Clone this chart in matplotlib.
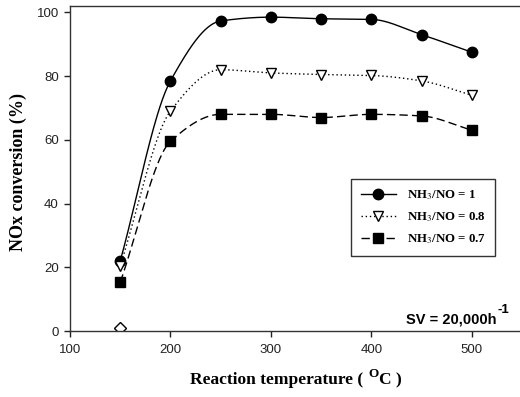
import numpy as np
import matplotlib
matplotlib.use("Agg")
import matplotlib.pyplot as plt

plt.rcParams["mathtext.fontset"] = "stix"

# Reaction temperature (°C) and NOx conversion (%) for each NH3/NO ratio
temperature = [150, 200, 250, 300, 350, 400, 450, 500]
conv_ratio_1 = [22.0, 78.5, 97.3, 98.5, 98.0, 97.8, 93.0, 87.5]
conv_ratio_08 = [20.5, 69.0, 82.0, 81.0, 80.5, 80.2, 78.5, 74.0]
conv_ratio_07 = [15.3, 59.5, 68.0, 68.0, 67.0, 68.0, 67.5, 63.0]
blank_temp = [150]
blank_conv = [1.0]

labels = [r"NH$_3$/NO = 1", r"NH$_3$/NO = 0.8", r"NH$_3$/NO = 0.7"]


def pchip(x, y, xs):
    """Shape-preserving piecewise cubic (Fritsch-Carlson) through the points."""
    x = np.asarray(x, float)
    y = np.asarray(y, float)
    h = np.diff(x)
    d = np.diff(y) / h
    n = len(x)
    m = np.zeros(n)
    for k in range(1, n - 1):
        if d[k - 1] * d[k] > 0:
            w1 = 2 * h[k] + h[k - 1]
            w2 = h[k] + 2 * h[k - 1]
            m[k] = (w1 + w2) / (w1 / d[k - 1] + w2 / d[k])
    m[0] = d[0]
    m[-1] = d[-1]
    idx = np.clip(np.searchsorted(x, xs) - 1, 0, n - 2)
    t = (xs - x[idx]) / h[idx]
    h00 = 2 * t**3 - 3 * t**2 + 1
    h10 = t**3 - 2 * t**2 + t
    h01 = -2 * t**3 + 3 * t**2
    h11 = t**3 - t**2
    return (h00 * y[idx] + h10 * h[idx] * m[idx]
            + h01 * y[idx + 1] + h11 * h[idx] * m[idx + 1])


W, H = 520, 397
fig = plt.figure(figsize=(W / 100, H / 100), dpi=100)
ax = fig.add_axes([70 / W, 66 / H, 1 - 70 / W, (391 - 66) / H])

xs = np.linspace(temperature[0], temperature[-1], 400)
styles = [
    dict(ls="-", marker="o", mfc="black", ms=7.5),
    dict(ls=(0, (1, 2)), marker="v", mfc="white", ms=7.5),
    dict(ls=(0, (6, 3)), marker="s", mfc="black", ms=6.5),
]
for yv, lab, st in zip([conv_ratio_1, conv_ratio_08, conv_ratio_07], labels, styles):
    ax.plot(xs, pchip(temperature, yv, xs), color="black", lw=1.0, ls=st["ls"])
    ax.plot(temperature, yv, ls="none", marker=st["marker"], mfc=st["mfc"],
            mec="black", mew=1.0, ms=st["ms"], color="black")
    # proxy for legend entry (line + marker)
    ax.plot([], [], color="black", lw=1.0, ls=st["ls"], marker=st["marker"],
            mfc=st["mfc"], mec="black", ms=st["ms"], label=lab)

ax.plot(blank_temp, blank_conv, ls="none", marker="D", mfc="white", mec="black",
        mew=1.0, ms=6)

ax.set_xlim(100, 548)
ax.set_ylim(0, 102)
ax.set_xticks([100, 200, 300, 400, 500])
ax.set_yticks([0, 20, 40, 60, 80, 100])
ax.spines["right"].set_visible(False)
for s in ["left", "bottom", "top"]:
    ax.spines[s].set_linewidth(1.0)
    ax.spines[s].set_color("#333333")
ax.tick_params(direction="out", length=4.5, width=1.0, labelsize=9.5,
               colors="#222222")
ax.tick_params(axis="x", pad=5)
for t in ax.get_xticklabels() + ax.get_yticklabels():
    t.set_family("Liberation Sans")

leg = ax.legend(loc="upper left", bbox_to_anchor=((351 - 70) / 450, (331 - 179) / 325),
                bbox_transform=ax.transAxes, borderaxespad=0, frameon=True,
                fancybox=False,
                prop=dict(family="Liberation Serif", weight="bold", size=9.3),
                handlelength=2.75, borderpad=0.75, labelspacing=0.62,
                handletextpad=0.8)
leg.get_frame().set_edgecolor("black")
leg.get_frame().set_linewidth(1.0)

# space-velocity annotation
fig.text(497 / W, 1 - 324 / H, "SV = 20,000h", family="Liberation Sans",
         weight="bold", size=10.5, ha="right", va="baseline")
fig.text(497 / W, 1 - 313 / H, "-1", family="Liberation Sans",
         weight="bold", size=9.5, ha="left", va="baseline")

# x-axis title assembled from pieces so the degree "O" sits as a raised capital
xlab_font = dict(family="Liberation Serif", weight="bold")
renderer = fig.canvas.get_renderer()
t1 = fig.text(190 / W, 1 - 384 / H, "Reaction temperature (", size=12.5,
              ha="left", va="baseline", **xlab_font)
x_end = t1.get_window_extent(renderer).x1
t2 = fig.text((x_end + 5) / W, 1 - 377 / H, "O", size=9.5, ha="left",
              va="baseline", **xlab_font)
x_end = t2.get_window_extent(renderer).x1
fig.text((x_end + 1) / W, 1 - 384 / H, "C )", size=12.5, ha="left",
         va="baseline", **xlab_font)

fig.text(18 / W, 1 - 172 / H, "NOx conversion (%)", family="Liberation Serif",
         weight="bold", size=13, rotation=90, ha="center", va="center")

fig.savefig("out.png", dpi=100)
